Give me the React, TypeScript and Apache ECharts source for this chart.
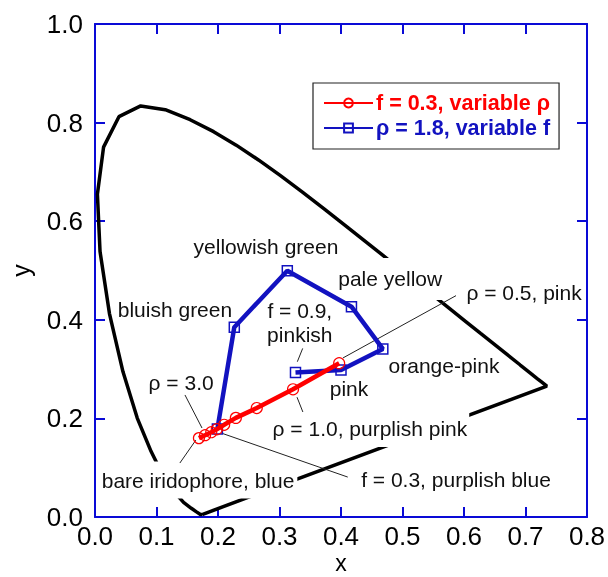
import React, { useEffect, useRef } from "react";
import * as echarts from "echarts";

// Spectral locus (black outline), x and y chromaticity
const locusX = [0.1741, 0.1714, 0.1644, 0.1566, 0.144, 0.1241, 0.1096, 0.0913, 0.0687, 0.0454, 0.0235, 0.0082, 0.0039, 0.0139, 0.0389, 0.0743, 0.1142, 0.1547, 0.1929, 0.2296, 0.2658, 0.3016, 0.3373, 0.3731, 0.4087, 0.4441, 0.4788, 0.5125, 0.5448, 0.5752, 0.6029, 0.627, 0.6658, 0.6915, 0.7079, 0.719, 0.726, 0.7347, 0.1741];
const locusY = [0.005, 0.0051, 0.0109, 0.0177, 0.0297, 0.0578, 0.0868, 0.1327, 0.2007, 0.295, 0.4127, 0.5384, 0.6548, 0.7502, 0.812, 0.8338, 0.8262, 0.8059, 0.7816, 0.7543, 0.7243, 0.6923, 0.6589, 0.6245, 0.5896, 0.5547, 0.5202, 0.4866, 0.4544, 0.4242, 0.3965, 0.3725, 0.334, 0.3083, 0.292, 0.2809, 0.274, 0.2653, 0.005];

// f = 0.3, variable rho (red)
const redName = "f = 0.3, variable ρ";
const redX = [0.169, 0.179, 0.189, 0.198, 0.21, 0.229, 0.263, 0.322, 0.397];
const redY = [0.16, 0.166, 0.172, 0.178, 0.187, 0.201, 0.221, 0.259, 0.312];

// rho = 1.8, variable f (blue)
const blueName = "ρ = 1.8, variable f";
const blueX = [0.199, 0.2265, 0.3127, 0.417, 0.468, 0.4, 0.326];
const blueY = [0.1785, 0.385, 0.4996, 0.4266, 0.341, 0.298, 0.293];

// Axis ticks
const xTicks = { min: 0, max: 0.8, step: 0.1 };
const yTicks = { min: 0, max: 1.0, step: 0.2 };

// Annotation texts and their anchor (data coords)
const noteText = [
  "yellowish green",
  "pale yellow",
  "bluish green",
  "f = 0.9,\npinkish",
  "ρ = 3.0",
  "bare iridophore, blue",
  "f = 0.3, purplish blue",
  "ρ = 1.0, purplish pink",
  "pink",
  "orange-pink",
  "ρ = 0.5, pink",
];
const noteX = [0.278, 0.48, 0.13, 0.333, 0.14, 0.1675, 0.587, 0.447, 0.413, 0.5675, 0.6976];
const noteY = [0.548, 0.483, 0.42, 0.394, 0.272, 0.075, 0.077, 0.1805, 0.26, 0.308, 0.456];
const notePad = [
  [1, 1], [9, 3], [1, 1], [1, 1], [1, 1], [7, 3, 6, 3], [1, 1], [5, 2, 9, 2], [1, 1], [1, 1], [1, 1],
];

// Leader lines: [x1, y1, x2, y2]
const leaders = [
  [0.1463, 0.2475, 0.174, 0.1805],
  [0.138, 0.1095, 0.164, 0.156],
  [0.206, 0.17, 0.411, 0.081],
  [0.3285, 0.243, 0.338, 0.213],
  [0.329, 0.315, 0.3377, 0.342],
  [0.403, 0.3225, 0.587, 0.449],
];

const FONT = "Liberation Sans, Arial, Helvetica, sans-serif";
const AXIS_BLUE = "#0a0ad6";

export default function App() {
  const ref = useRef<HTMLDivElement>(null);
  useEffect(() => {
    document.body.style.margin = "0";
    const chart = echarts.init(ref.current!, null, { renderer: "svg" });
    const zip = (xs: number[], ys: number[]) => xs.map((x, i) => [x, ys[i]]);
    const baseAxis = {
      type: "value" as const,
      axisLine: { show: true, onZero: false, lineStyle: { color: AXIS_BLUE, width: 2 } },
      axisTick: { show: true, inside: true, length: 10, lineStyle: { color: AXIS_BLUE, width: 2 } },
      splitLine: { show: false },
    };
    const label1 = (v: number) => v.toFixed(1);
    chart.setOption({
      animation: false,
      textStyle: { fontFamily: FONT },
      grid: { left: 95, top: 24, right: 21, bottom: 60, containLabel: false, outerBoundsMode: "none" },
      xAxis: [
        {
          ...baseAxis,
          position: "bottom",
          min: xTicks.min,
          max: xTicks.max,
          interval: xTicks.step,
          name: "x",
          nameLocation: "middle",
          nameGap: 45.5,
          nameMoveOverlap: false,
          nameTextStyle: { fontSize: 23, lineHeight: 22, verticalAlign: "middle", color: "#000", fontFamily: FONT },
          axisLabel: { formatter: label1, fontSize: 26, lineHeight: 26, color: "#000", margin: 6, fontFamily: FONT },
        },
        {
          ...baseAxis,
          position: "top",
          min: xTicks.min,
          max: xTicks.max,
          interval: xTicks.step,
          axisLabel: { show: false },
        },
      ],
      yAxis: [
        {
          ...baseAxis,
          position: "left",
          min: yTicks.min,
          max: yTicks.max,
          interval: yTicks.step,
          name: "y",
          nameLocation: "middle",
          nameGap: 62,
          nameMoveOverlap: false,
          nameTextStyle: { fontSize: 25, color: "#000", fontFamily: FONT },
          axisLabel: { formatter: label1, fontSize: 26, color: "#000", margin: 12, fontFamily: FONT },
        },
        {
          ...baseAxis,
          position: "right",
          min: yTicks.min,
          max: yTicks.max,
          interval: yTicks.step,
          axisLabel: { show: false },
        },
      ],
      legend: {
        orient: "vertical",
        left: 313,
        top: 83,
        padding: [9, 9, 10, 10],
        itemGap: 3,
        itemWidth: 49,
        itemHeight: 11,
        borderColor: "#222",
        borderWidth: 1.2,
        backgroundColor: "#fff",
        z: 10,
        data: [
          { name: redName, textStyle: { color: "#ff0000" } },
          { name: blueName, textStyle: { color: "#1212c0" } },
        ],
        textStyle: { fontSize: 21.5, fontWeight: "bold", fontFamily: FONT, padding: [0, 0, 0, -2] },
      },
      series: [
        {
          type: "line",
          name: "locus",
          data: zip(locusX, locusY),
          showSymbol: false,
          lineStyle: { color: "#000", width: 3.5 },
          z: 1,
          silent: true,
        },
        {
          type: "scatter",
          name: "notes",
          data: noteText.map((t, i) => ({
            name: t,
            value: [noteX[i], noteY[i]],
            label: { padding: notePad[i] },
          })),
          symbolSize: 1,
          itemStyle: { color: "rgba(255,255,255,0)", opacity: 1 },
          label: {
            show: true,
            position: "inside",
            formatter: "{b}",
            color: "#111",
            fontSize: 21,
            lineHeight: 24,
            fontFamily: FONT,
            align: "center",
            verticalAlign: "middle",
            backgroundColor: "#fff",
          },
          z: 2,
          silent: true,
        },
        {
          type: "lines",
          coordinateSystem: "cartesian2d",
          data: leaders.map((l) => ({ coords: [[l[0], l[1]], [l[2], l[3]]] })),
          lineStyle: { color: "#222", width: 1, opacity: 1 },
          z: 3,
          silent: true,
        },
        {
          type: "line",
          name: blueName,
          data: zip(blueX, blueY),
          symbol: "rect",
          symbolSize: 10,
          showAllSymbol: true,
          lineStyle: { color: "#1212c0", width: 4.5 },
          itemStyle: { color: "rgba(255,255,255,0)", borderColor: "#1212c0", borderWidth: 1.5 },
          z: 4,
        },
        {
          type: "line",
          name: redName,
          data: zip(redX, redY),
          symbol: "circle",
          symbolSize: 11,
          showAllSymbol: true,
          lineStyle: { color: "#ff0000", width: 4.5 },
          itemStyle: { color: "rgba(255,255,255,0)", borderColor: "#ff0000", borderWidth: 1.2 },
          z: 5,
        },
      ],
    });
    return () => chart.dispose();
  }, []);
  return <div ref={ref} style={{ position: "fixed", left: 0, top: 0, width: 608, height: 577 }} />;
}
